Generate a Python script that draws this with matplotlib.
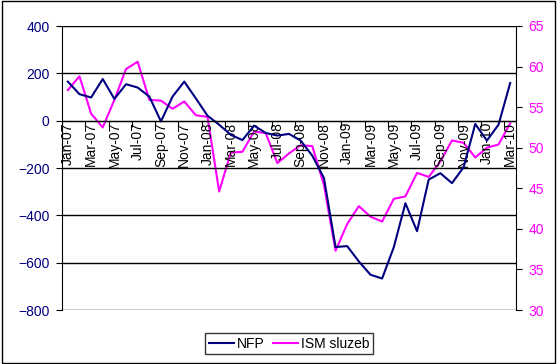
import matplotlib
matplotlib.use("Agg")
import matplotlib.pyplot as plt
from matplotlib.patches import Rectangle

plt.rcParams['font.family'] = ['Liberation Sans', 'DejaVu Sans']

# monthly data Jan-07 .. Mar-10
months = ["Jan", "Feb", "Mar", "Apr", "May", "Jun",
          "Jul", "Aug", "Sep", "Oct", "Nov", "Dec"]
labels = [f"{m}-{y:02d}" for y in (7, 8, 9, 10) for m in months][:39]

nfp = [165, 112, 98, 176, 92, 154, 140, 102, -3, 102, 165, 94,
       21, -17, -60, -82, -21, -52, -63, -56, -84, -148, -242, -534,
       -530, -595, -651, -667, -535, -349, -467, -249, -222, -264, -197, -14,
       -84, -17, 159]
ism = [57.1, 58.8, 54.2, 52.5, 55.9, 59.7, 60.6, 55.9, 55.8, 54.8, 55.7, 54.0,
       53.8, 44.6, 49.4, 49.5, 52.0, 51.8, 48.1, 49.3, 50.3, 50.2, 45.4, 37.3,
       40.6, 42.8, 41.5, 40.9, 43.7, 44.0, 46.9, 46.4, 48.3, 50.9, 50.6, 48.8,
       50.0, 50.4, 53.0]

navy = "#000080"
magenta = "#FF00FF"

fig = plt.figure(figsize=(5.57, 3.64), dpi=100)
ax = fig.add_axes([62 / 557, 54 / 364, 454 / 557, 284 / 364])
x = list(range(len(nfp)))

# left axis - NFP
l1, = ax.plot(x, nfp, color=navy, lw=1.5, label="NFP")
ax.set_xlim(-0.5, len(nfp) - 0.5)
ax.set_ylim(-800, 400)
ax.set_yticks(range(-800, 401, 200))
ax.grid(axis="y", color="black", lw=1)
ax.set_axisbelow(True)
ax.tick_params(axis="y", direction="out", length=4, pad=5, colors="black",
               labelcolor=navy, labelsize=10)

# x axis crosses at 0
ax.spines["bottom"].set_position(("data", 0))
ax.spines["top"].set_visible(False)
ax.spines["right"].set_visible(False)
ax.set_xticks([i - 0.5 for i in range(0, len(nfp), 2)])
ax.set_xticklabels([])
ax.tick_params(axis="x", which="major", direction="out", length=4)
ax.set_xticks(range(0, len(nfp), 2), minor=True)
ax.set_xticklabels(labels[::2], minor=True, rotation=90, fontsize=10)
ax.tick_params(axis="x", which="minor", length=0, pad=1)

# right axis - ISM
ax2 = ax.twinx()
l2, = ax2.plot(x, ism, color=magenta, lw=1.5, label="ISM sluzeb")
ax2.set_ylim(30, 65)
ax2.set_yticks(range(30, 66, 5))
ax2.tick_params(axis="y", direction="out", length=4, pad=5, colors="black",
                labelcolor=magenta, labelsize=10)
for s in ("top", "left", "bottom"):
    ax2.spines[s].set_visible(False)
ax.set_zorder(ax2.get_zorder() + 1)
ax.patch.set_visible(False)

leg = fig.legend(handles=[l1, l2], loc="center", bbox_to_anchor=(289 / 557, 1 - 343.5 / 364),
                 ncol=2, fontsize=10, frameon=True, fancybox=False, edgecolor="black",
                 handlelength=1.8, handletextpad=0.2, columnspacing=0.6,
                 borderpad=0.25, borderaxespad=0)
leg.get_frame().set_linewidth(1)

fig.patches.append(Rectangle((2 / 557, 1 / 364), 553 / 557, 362 / 364, transform=fig.transFigure,
                             fill=False, edgecolor="black", lw=1))

fig.savefig("out.png", dpi=100)
